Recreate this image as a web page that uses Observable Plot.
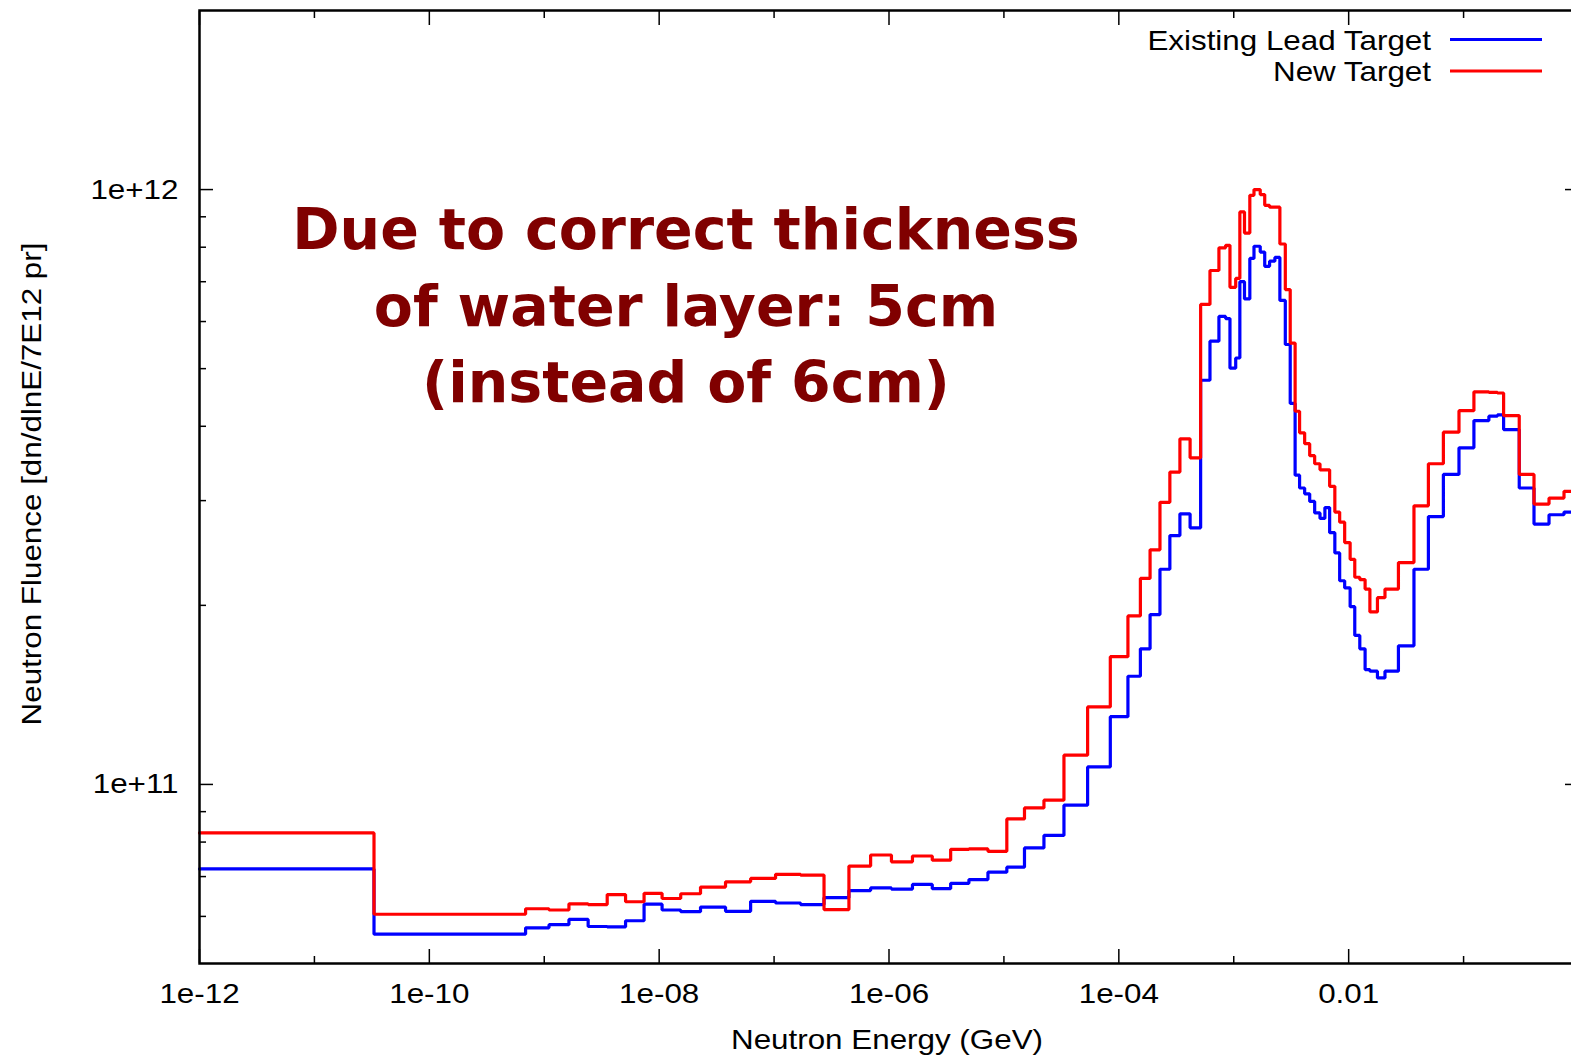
<!DOCTYPE html>
<html>
<head>
<meta charset="utf-8">
<script src="https://cdn.jsdelivr.net/npm/d3@7"></script>
<script src="https://cdn.jsdelivr.net/npm/@observablehq/plot@0.6"></script>
<style>
html, body { margin: 0; padding: 0; background: #fff; overflow: hidden; width: 1571px; height: 1060px; }
#chart { position: absolute; left: 0; top: 0; width: 1600px; }
</style>
</head>
<body>
<div id="chart"></div>
<script>
// Bin edges of the neutron energy histogram (GeV)
const energyEdges = [
  1e-12, 3.30e-11, 6.88e-10, 1.10e-9, 1.64e-9, 2.41e-9, 3.53e-9, 5.10e-9, 7.39e-9, 1.06e-8,
  1.54e-8, 2.29e-8, 3.78e-8, 6.25e-8, 1.03e-7, 1.70e-7, 2.72e-7, 4.48e-7, 6.92e-7, 1.05e-6,
  1.60e-6, 2.38e-6, 3.44e-6, 4.96e-6, 7.26e-6, 1.06e-5, 1.51e-5, 2.23e-5, 3.33e-5, 5.35e-5,
  8.43e-5, 1.20e-4, 1.54e-4, 1.87e-4, 2.28e-4, 2.78e-4, 3.40e-4, 4.17e-4, 5.15e-4, 6.21e-4,
  7.43e-4, 8.50e-4, 9.27e-4, 1.04e-3, 1.13e-3, 1.24e-3, 1.38e-3, 1.50e-3, 1.70e-3, 1.86e-3,
  2.05e-3, 2.28e-3, 2.52e-3, 2.81e-3, 3.10e-3, 3.42e-3, 3.74e-3, 4.14e-3, 4.58e-3, 5.06e-3,
  5.63e-3, 6.21e-3, 6.83e-3, 7.58e-3, 8.35e-3, 9.23e-3, 1.03e-2, 1.13e-2, 1.25e-2, 1.39e-2,
  1.53e-2, 1.78e-2, 2.07e-2, 2.71e-2, 3.70e-2, 4.94e-2, 6.67e-2, 9.12e-2, 0.123, 0.166,
  0.197, 0.223, 0.305, 0.410, 0.554, 0.748, 1.0
];

// Fluence per bin: Existing Lead Target (blue)
const existingLead = [
  7.21e10, 5.60e10, 5.74e10, 5.81e10, 5.93e10, 5.77e10, 5.76e10, 5.90e10, 6.29e10, 6.15e10,
  6.11e10, 6.22e10, 6.12e10, 6.36e10, 6.32e10, 6.28e10, 6.45e10, 6.63e10, 6.70e10, 6.67e10,
  6.79e10, 6.68e10, 6.82e10, 6.92e10, 7.12e10, 7.26e10, 7.82e10, 8.21e10, 9.23e10, 1.07e11,
  1.30e11, 1.52e11, 1.69e11, 1.93e11, 2.30e11, 2.62e11, 2.85e11, 2.70e11, 4.78e11, 5.56e11,
  6.12e11, 6.07e11, 5.01e11, 5.21e11, 7.00e11, 6.55e11, 7.66e11, 8.03e11, 7.85e11, 7.43e11,
  7.58e11, 7.69e11, 6.51e11, 5.49e11, 4.37e11, 3.31e11, 3.15e11, 3.08e11, 2.99e11, 2.86e11,
  2.80e11, 2.92e11, 2.65e11, 2.45e11, 2.20e11, 2.14e11, 1.99e11, 1.78e11, 1.69e11, 1.56e11,
  1.55e11, 1.51e11, 1.55e11, 1.71e11, 2.30e11, 2.82e11, 3.32e11, 3.68e11, 4.09e11, 4.16e11,
  4.18e11, 3.95e11, 3.15e11, 2.74e11, 2.84e11, 2.87e11
];

// Fluence per bin: New Target (red)
const newTarget = [
  8.29e10, 6.05e10, 6.18e10, 6.15e10, 6.30e10, 6.28e10, 6.53e10, 6.35e10, 6.56e10, 6.43e10,
  6.55e10, 6.72e10, 6.86e10, 6.95e10, 7.06e10, 7.04e10, 6.16e10, 7.29e10, 7.61e10, 7.41e10,
  7.58e10, 7.46e10, 7.78e10, 7.79e10, 7.72e10, 8.75e10, 9.13e10, 9.41e10, 1.12e11, 1.35e11,
  1.64e11, 1.92e11, 2.22e11, 2.48e11, 2.98e11, 3.35e11, 3.81e11, 3.54e11, 6.41e11, 7.31e11,
  7.98e11, 8.06e11, 6.85e11, 7.09e11, 9.17e11, 8.45e11, 9.78e11, 1.00e12, 9.81e11, 9.41e11,
  9.34e11, 9.34e11, 8.10e11, 6.79e11, 5.52e11, 4.24e11, 3.90e11, 3.74e11, 3.57e11, 3.46e11,
  3.38e11, 3.38e11, 3.17e11, 2.87e11, 2.76e11, 2.55e11, 2.39e11, 2.23e11, 2.21e11, 2.13e11,
  1.95e11, 2.06e11, 2.13e11, 2.36e11, 2.94e11, 3.46e11, 3.91e11, 4.25e11, 4.57e11, 4.56e11,
  4.55e11, 4.17e11, 3.32e11, 2.96e11, 3.03e11, 3.11e11
];

const seriesNames = ["Existing Lead Target", "New Target"];
const seriesColors = ["#0000ff", "#ff0000"];

const xMajor = [1e-12, 1e-10, 1e-8, 1e-6, 1e-4, 1e-2, 1];
const xMinor = [1e-11, 1e-9, 1e-7, 1e-5, 1e-3, 1e-1];
const xLabelTicks = [1e-12, 1e-10, 1e-8, 1e-6, 1e-4, 1e-2];
const xTickLabels = ["1e-12", "1e-10", "1e-08", "1e-06", "1e-04", "0.01"];
const yMajor = [1e11, 1e12];
const yTickLabels = ["1e+11", "1e+12"];
const yMinor = [6e10, 7e10, 8e10, 9e10, 2e11, 3e11, 4e11, 5e11, 6e11, 7e11, 8e11, 9e11];

const xLabel = "Neutron Energy (GeV)";
const yLabel = "Neutron Fluence [dn/dlnE/7E12 pr]";
const noteLines = ["Due to correct thickness", "of water layer: 5cm", "(instead of 6cm)"];

function stepRows(values) {
  const rows = [];
  for (let i = 0; i < energyEdges.length; i++) {
    rows.push({E: energyEdges[i], v: values[Math.min(i, values.length - 1)]});
  }
  return rows;
}
const blueRows = stepRows(existingLead);
const redRows = stepRows(newTarget);

const FONT = "'Liberation Sans', Arial, Helvetica, sans-serif";
const xMap = new Map(xLabelTicks.map((d, i) => [d, xTickLabels[i]]));
const yMap = new Map(yMajor.map((d, i) => [d, yTickLabels[i]]));
const tickOpts = {label: null, fill: "none", stroke: "black", strokeWidth: 1.5};

const svg = Plot.plot({
  width: 1600,
  height: 1060,
  marginLeft: 199,
  marginRight: 22,
  marginTop: 10,
  marginBottom: 97,
  style: {fontFamily: FONT, fontSize: "28px", color: "black", background: "white", maxWidth: "none", overflow: "visible"},
  x: {type: "log", domain: [1e-12, 1]},
  y: {type: "log", domain: [5e10, 2e12]},
  marks: [
    Plot.line(blueRows, {x: "E", y: "v", curve: "step-after", stroke: seriesColors[0], strokeWidth: 3.2, strokeLinejoin: "miter"}),
    Plot.line(redRows, {x: "E", y: "v", curve: "step-after", stroke: seriesColors[1], strokeWidth: 3.2, strokeLinejoin: "miter"}),
    Plot.axisX(xMajor, {...tickOpts, anchor: "bottom", tickSize: -14}),
    Plot.axisX(xMinor, {...tickOpts, anchor: "bottom", tickSize: -7}),
    Plot.axisX(xMajor, {...tickOpts, anchor: "top", tickSize: -14}),
    Plot.axisX(xMinor, {...tickOpts, anchor: "top", tickSize: -7}),
    Plot.axisY(yMajor, {...tickOpts, anchor: "left", tickSize: -14}),
    Plot.axisY(yMinor, {...tickOpts, anchor: "left", tickSize: -7}),
    Plot.axisY(yMajor, {...tickOpts, anchor: "right", tickSize: -14}),
    Plot.axisY(yMinor, {...tickOpts, anchor: "right", tickSize: -7}),
    Plot.axisX(xLabelTicks, {anchor: "bottom", tickSize: 0, tickPadding: 20, tickFormat: d => xMap.get(d), label: null, fontSize: 28, fill: "black"}),
    Plot.axisY(yMajor, {anchor: "left", tickSize: 0, tickPadding: 21, tickFormat: d => yMap.get(d), label: null, fontSize: 28, fill: "black"}),
    Plot.frame({stroke: "black", strokeWidth: 2.5})
  ]
});

document.getElementById("chart").append(svg);
const s = d3.select(svg);

// Axis labels
s.append("text").attr("class", "stretch")
  .attr("x", 887).attr("y", 1049).attr("text-anchor", "middle")
  .attr("font-family", FONT).attr("font-size", 28).attr("fill", "black").text(xLabel);
s.append("text").attr("class", "stretch")
  .attr("transform", "translate(41,484) rotate(-90)").attr("text-anchor", "middle")
  .attr("font-family", FONT).attr("font-size", 28).attr("fill", "black").text(yLabel);

// Legend
const legendY = [39.5, 71];
seriesNames.forEach((name, i) => {
  s.append("text").attr("class", "stretch")
    .attr("x", 1431).attr("y", legendY[i] + 10).attr("text-anchor", "end")
    .attr("font-family", FONT).attr("font-size", 28).attr("fill", "black").text(name);
  s.append("line")
    .attr("x1", 1450).attr("x2", 1542).attr("y1", legendY[i]).attr("y2", legendY[i])
    .attr("stroke", seriesColors[i]).attr("stroke-width", 3.2);
});

// Annotation
const noteY = [249, 326, 402];
noteLines.forEach((line, i) => {
  s.append("text").attr("class", "anno")
    .attr("x", 686).attr("y", noteY[i]).attr("text-anchor", "middle")
    .attr("font-family", "'DejaVu Sans', Verdana, sans-serif").attr("font-weight", "bold")
    .attr("font-size", 57).attr("fill", "#800000").text(line);
});

// gnuplot's Helvetica renders slightly wider: stretch glyphs horizontally
svg.querySelectorAll("g[aria-label='x-axis tick label'] text, g[aria-label='y-axis tick label'] text, text.stretch").forEach(t => {
  const w = t.getComputedTextLength();
  if (w > 0) {
    t.setAttribute("textLength", (w * 1.12).toFixed(1));
    t.setAttribute("lengthAdjust", "spacingAndGlyphs");
  }
});
</script>
</body>
</html>
